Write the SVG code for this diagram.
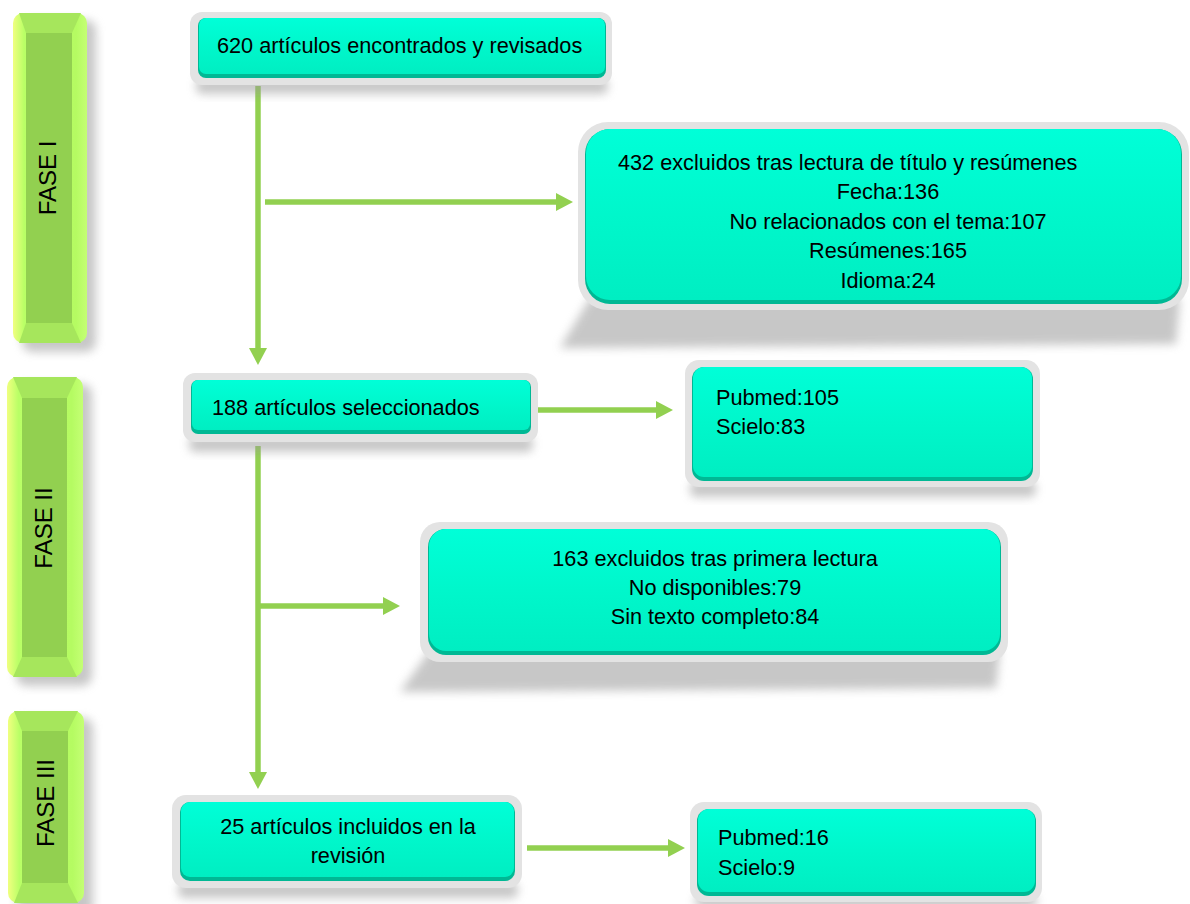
<svg xmlns="http://www.w3.org/2000/svg" width="1190" height="904" viewBox="0 0 1190 904">
<defs>
<style>
.txt{font-family:"Liberation Sans",Arial,sans-serif;font-size:21.7px;fill:#000}
.fase{font-family:"Liberation Sans",Arial,sans-serif;font-size:24px;fill:#000}
.grey{fill:#e3e3e3}
.tealdark{fill:#00b894}
.teal{fill:url(#tealg)}
.shadow{fill:#9a9a9a;opacity:0.55;filter:url(#blur)}
.barouter{fill:url(#limeg)}
.bevel{fill:#a6e65c}
.panel{fill:#92d050}
.conn{stroke:#92d050;stroke-width:5.5;fill:none}
</style>
<linearGradient id="tealg" x1="0" y1="0" x2="0" y2="1">
<stop offset="0" stop-color="#00ffd8"/>
<stop offset="0.5" stop-color="#00f7cb"/>
<stop offset="1" stop-color="#00eec2"/>
</linearGradient>
<linearGradient id="limeg" x1="0" y1="0" x2="1" y2="0">
<stop offset="0" stop-color="#f0ff80"/>
<stop offset="0.15" stop-color="#b9ff66"/>
<stop offset="0.85" stop-color="#b5fb62"/>
<stop offset="1" stop-color="#c4ff74"/>
</linearGradient>
<filter id="blur" x="-20%" y="-50%" width="140%" height="200%">
<feGaussianBlur stdDeviation="5"/>
</filter>
<marker id="arrow" viewBox="0 0 17 18" refX="1" refY="9" markerWidth="17" markerHeight="18" markerUnits="userSpaceOnUse" orient="auto">
<path d="M0,0 L17,9 L0,18 z" fill="#92d050"/>
</marker>
</defs>

<g id="fase1">
<rect class="shadow" x="22" y="20" width="74" height="332" rx="10"/>
<rect class="barouter" x="13" y="13" width="74" height="330" rx="10"/>
<polygon class="bevel" points="19,13 81,13 72,33 26,33"/>
<polygon class="bevel" points="26,323 72,323 81,343 19,343"/>
<rect class="panel" x="26" y="33" width="46" height="290"/>
<text class="fase" transform="translate(56,178) rotate(-90)" text-anchor="middle">FASE I</text>
</g>

<g id="fase2">
<rect class="shadow" x="16" y="384" width="76" height="302" rx="10"/>
<rect class="barouter" x="7" y="377" width="76" height="300" rx="10"/>
<polygon class="bevel" points="13,377 77,377 67,398 22,398"/>
<polygon class="bevel" points="22,657 67,657 77,677 13,677"/>
<rect class="panel" x="22" y="398" width="45" height="259"/>
<text class="fase" transform="translate(52,528) rotate(-90)" text-anchor="middle">FASE II</text>
</g>

<g id="fase3">
<rect class="shadow" x="17" y="718" width="76" height="200" rx="10"/>
<rect class="barouter" x="8" y="711" width="76" height="192" rx="10"/>
<polygon class="bevel" points="14,711 78,711 68,731 22,731"/>
<polygon class="bevel" points="22,883 68,883 78,903 14,903"/>
<rect class="panel" x="22" y="731" width="46" height="152"/>
<text class="fase" transform="translate(54,803) rotate(-90)" text-anchor="middle">FASE III</text>
</g>

<g id="connectors">
<line class="conn" x1="258" y1="86" x2="258" y2="349" marker-end="url(#arrow)"/>
<line class="conn" x1="265" y1="202" x2="557" y2="202" marker-end="url(#arrow)"/>
<line class="conn" x1="533" y1="410" x2="657" y2="410" marker-end="url(#arrow)"/>
<line class="conn" x1="258" y1="446" x2="258" y2="773" marker-end="url(#arrow)"/>
<line class="conn" x1="258" y1="606" x2="384" y2="606" marker-end="url(#arrow)"/>
<line class="conn" x1="527" y1="848" x2="669" y2="848" marker-end="url(#arrow)"/>
</g>

<g id="box620">
<rect class="shadow" x="196" y="78" width="412" height="16" rx="6"/>
<rect class="grey" x="190" y="12" width="422" height="73" rx="12"/>
<rect class="tealdark" x="198" y="18" width="408" height="60" rx="8"/>
<rect class="teal" x="199" y="18" width="406" height="56" rx="7"/>
<text class="txt" x="217" y="53">620 artículos encontrados y revisados</text>
</g>

<g id="box432">
<polygon class="shadow" points="590,298 1180,298 1176,344 560,348"/>
<rect class="grey" x="578" y="122" width="611" height="188" rx="30"/>
<rect class="tealdark" x="585" y="129" width="597" height="175" rx="25"/>
<rect class="teal" x="586" y="129" width="595" height="171" rx="24"/>
<text class="txt" x="618" y="170">432 excluidos tras lectura de título y resúmenes</text>
<text class="txt" x="888" y="199" text-anchor="middle">Fecha:136</text>
<text class="txt" x="888" y="229" text-anchor="middle">No relacionados con el tema:107</text>
<text class="txt" x="888" y="258" text-anchor="middle">Resúmenes:165</text>
<text class="txt" x="888" y="288" text-anchor="middle">Idioma:24</text>
</g>

<g id="box188">
<rect class="shadow" x="189" y="436" width="344" height="16" rx="6"/>
<rect class="grey" x="183" y="373" width="355" height="69" rx="12"/>
<rect class="tealdark" x="191" y="380" width="340" height="54" rx="7"/>
<rect class="teal" x="192" y="380" width="338" height="50" rx="6"/>
<text class="txt" x="212" y="415">188 artículos seleccionados</text>
</g>

<g id="boxPubmed105">
<rect class="shadow" x="690" y="481" width="346" height="16" rx="6"/>
<rect class="grey" x="685" y="360" width="355" height="127" rx="14"/>
<rect class="tealdark" x="692" y="367" width="341" height="114" rx="12"/>
<rect class="teal" x="693" y="367" width="339" height="110" rx="11"/>
<text class="txt" x="716" y="405">Pubmed:105</text>
<text class="txt" x="716" y="434">Scielo:83</text>
</g>

<g id="box163">
<polygon class="shadow" points="430,650 1000,650 996,688 400,692"/>
<rect class="grey" x="420" y="522" width="588" height="140" rx="20"/>
<rect class="tealdark" x="428" y="529" width="573" height="126" rx="18"/>
<rect class="teal" x="429" y="529" width="571" height="122" rx="17"/>
<text class="txt" x="715" y="566" text-anchor="middle">163 excluidos tras primera lectura</text>
<text class="txt" x="715" y="595" text-anchor="middle">No disponibles:79</text>
<text class="txt" x="715" y="624" text-anchor="middle">Sin texto completo:84</text>
</g>

<g id="box25">
<rect class="shadow" x="178" y="882" width="340" height="16" rx="6"/>
<rect class="grey" x="172" y="795" width="350" height="93" rx="14"/>
<rect class="tealdark" x="180" y="802" width="335" height="79" rx="10"/>
<rect class="teal" x="181" y="802" width="333" height="75" rx="9"/>
<text class="txt" x="348" y="834" text-anchor="middle">25 artículos incluidos en la</text>
<text class="txt" x="348" y="863" text-anchor="middle">revisión</text>
</g>

<g id="boxPubmed16">
<rect class="shadow" x="695" y="894" width="342" height="14" rx="6"/>
<rect class="grey" x="690" y="802" width="352" height="100" rx="14"/>
<rect class="tealdark" x="697" y="809" width="339" height="87" rx="12"/>
<rect class="teal" x="698" y="809" width="337" height="83" rx="11"/>
<text class="txt" x="718" y="845">Pubmed:16</text>
<text class="txt" x="718" y="875">Scielo:9</text>
</g>
</svg>
